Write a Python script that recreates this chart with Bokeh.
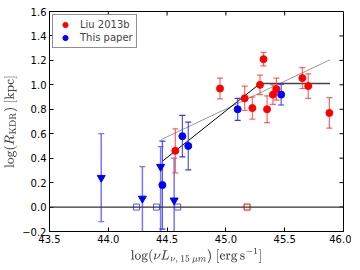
import math
from bokeh.plotting import figure
from bokeh.models import FixedTicker, Range1d, Span
from bokeh.embed import file_html
from bokeh.resources import INLINE

# ---- tick values / labels ----
x_ticks = [43.5, 44.0, 44.5, 45.0, 45.5, 46.0]
x_tick_labels = ["43.5", "44.0", "44.5", "45.0", "45.5", "46.0"]
y_ticks = [-0.2, 0.0, 0.2, 0.4, 0.6, 0.8, 1.0, 1.2, 1.4, 1.6]
y_tick_labels = ["\u22120.2", "0.0", "0.2", "0.4", "0.6", "0.8", "1.0", "1.2", "1.4", "1.6"]

# ---- Liu 2013b (red) ----
liu_x = [44.57, 44.95, 45.16, 45.225, 45.29, 45.32, 45.35, 45.40, 45.43, 45.65, 45.70, 45.88]
liu_y = [0.46, 0.97, 0.89, 0.81, 1.00, 1.21, 0.80, 0.92, 0.965, 1.055, 0.99, 0.77]
liu_err = [0.18, 0.085, 0.10, 0.09, 0.08, 0.055, 0.11, 0.08, 0.09, 0.085, 0.10, 0.125]

# ---- This paper (blue circles) ----
this_x = [44.46, 44.63, 44.68, 45.10, 45.47]
this_y = [0.18, 0.58, 0.50, 0.80, 0.92]
this_err = [0.36, 0.17, 0.195, 0.09, 0.085]

# ---- This paper upper limits (blue down triangles) ----
lim_x = [43.94, 44.29, 44.445, 44.56]
lim_y = [0.24, 0.07, 0.33, 0.055]
lim_hi = [0.60, 0.33, 0.495, 0.40]
lim_lo = [-0.12, -0.25, -0.25, -0.25]

# ---- non-detections (open squares at zero) ----
blue_sq_x = [44.24, 44.41, 44.59]
blue_sq_y = [0.0, 0.0, 0.0]
red_sq_x = [45.18]
red_sq_y = [0.0]

# ---- fit lines ----
fit_x = [44.46, 45.29]
fit_y = [0.375, 1.01]
flat_x = [45.29, 45.885]
flat_y = [1.01, 1.01]
gray_x = [44.45, 45.885]
gray_y = [0.552, 1.205]

p = figure(frame_width=294, frame_height=220,
           x_range=Range1d(x_ticks[0], x_ticks[-1]), y_range=Range1d(y_ticks[0], y_ticks[-1]),
           output_backend="svg", toolbar_location=None,
           min_border_left=45, min_border_right=8,
           min_border_top=11, min_border_bottom=33)
p.xgrid.visible = False
p.ygrid.visible = False
p.outline_line_color = "black"
p.outline_line_width = 1
p.background_fill_color = "white"
p.border_fill_color = "white"

FONT = "DejaVu Sans"
p.xaxis.ticker = FixedTicker(ticks=x_ticks)
p.yaxis.ticker = FixedTicker(ticks=y_ticks)
p.xaxis.major_label_overrides = dict(zip(x_ticks, x_tick_labels))
p.yaxis.major_label_overrides = dict(zip(y_ticks, y_tick_labels))
for ax in (p.xaxis[0], p.yaxis[0]):
    ax.major_tick_in = 4
    ax.major_tick_out = 0
    ax.minor_tick_line_color = None
    ax.major_label_text_font = FONT
    ax.major_label_text_font_size = "10px"
    ax.major_label_text_color = "black"
    ax.major_label_standoff = 3
    ax.axis_label_standoff = 2
    ax.axis_line_color = "black"
    ax.axis_label_text_font_size = "11px"
p.yaxis.axis_label = r"$$\log(R_{\rm KDR})\ [{\rm kpc}]$$"
p.xaxis.axis_label = r"$$\log(\nu L_{\nu,\,15\,\mu m})\ [{\rm erg\,s^{-1}}]$$"

# inward ticks on the top and right edges
p.ray(x=x_ticks, y=[y_ticks[-1]] * len(x_ticks), length=4, length_units="screen",
      angle=-math.pi / 2, line_color="black", line_width=1)
p.ray(x=[x_ticks[-1]] * len(y_ticks), y=y_ticks, length=4, length_units="screen",
      angle=math.pi, line_color="black", line_width=1)

# zero line
p.add_layout(Span(location=0, dimension="width", line_color="#333333", line_width=1.2))

# fit lines
p.line(gray_x, gray_y, line_color="#999999", line_width=1)
p.line(fit_x, fit_y, line_color="black", line_width=1)
p.line(flat_x, flat_y, line_color="#444444", line_width=1.5)

RED = "#ff0000"
BLUE = "#0000ff"

# error bars - limits
lim_c = "#7777ff"
p.segment(x0=lim_x, y0=lim_lo, x1=lim_x, y1=lim_hi, line_color=lim_c, line_width=1.5)
p.scatter(lim_x, lim_hi, marker="dash", size=6, line_color=lim_c, line_width=1.2)
p.scatter(lim_x, lim_lo, marker="dash", size=6, line_color=lim_c, line_width=1.2)

# error bars - this paper
this_lo = [y - e for y, e in zip(this_y, this_err)]
this_hi = [y + e for y, e in zip(this_y, this_err)]
p.segment(x0=this_x, y0=this_lo, x1=this_x, y1=this_hi, line_color="#3333ff", line_width=1.2, line_alpha=0.85)
p.scatter(this_x, this_hi, marker="dash", size=6, line_color="#3333ff", line_width=1.2)
p.scatter(this_x, this_lo, marker="dash", size=6, line_color="#3333ff", line_width=1.2)

# error bars - Liu
liu_lo = [y - e for y, e in zip(liu_y, liu_err)]
liu_hi = [y + e for y, e in zip(liu_y, liu_err)]
p.segment(x0=liu_x, y0=liu_lo, x1=liu_x, y1=liu_hi, line_color="#ff3333", line_width=1.2, line_alpha=0.75)
p.scatter(liu_x, liu_hi, marker="dash", size=6, line_color="#ff3333", line_width=1.2, line_alpha=0.75)
p.scatter(liu_x, liu_lo, marker="dash", size=6, line_color="#ff3333", line_width=1.2, line_alpha=0.75)

# squares
p.scatter(blue_sq_x, blue_sq_y, marker="square", size=6, fill_color="white",
          line_color="#5555ff", line_width=1)
p.scatter(red_sq_x, red_sq_y, marker="square", size=6, fill_color="white",
          line_color=RED, line_width=1)

# markers
p.scatter(lim_x, lim_y, marker="inverted_triangle", size=8, fill_color=BLUE, line_color=BLUE)
p.scatter(liu_x, liu_y, marker="circle", size=7, fill_color=RED, line_color=RED,
          legend_label="Liu 2013b")
p.scatter(this_x, this_y, marker="circle", size=7, fill_color=BLUE, line_color=BLUE,
          legend_label="This paper")

lg = p.legend[0]
lg.location = "top_left"
lg.margin = 3
lg.padding = 3
lg.spacing = 0
lg.label_height = 13
lg.glyph_height = 13
lg.glyph_width = 18
lg.label_standoff = 6
lg.label_text_font = FONT
lg.label_text_font_size = "10px"
lg.border_line_color = "#222222"
lg.border_line_width = 1
lg.background_fill_alpha = 1

open("out.html", "w").write(file_html(p, INLINE))
